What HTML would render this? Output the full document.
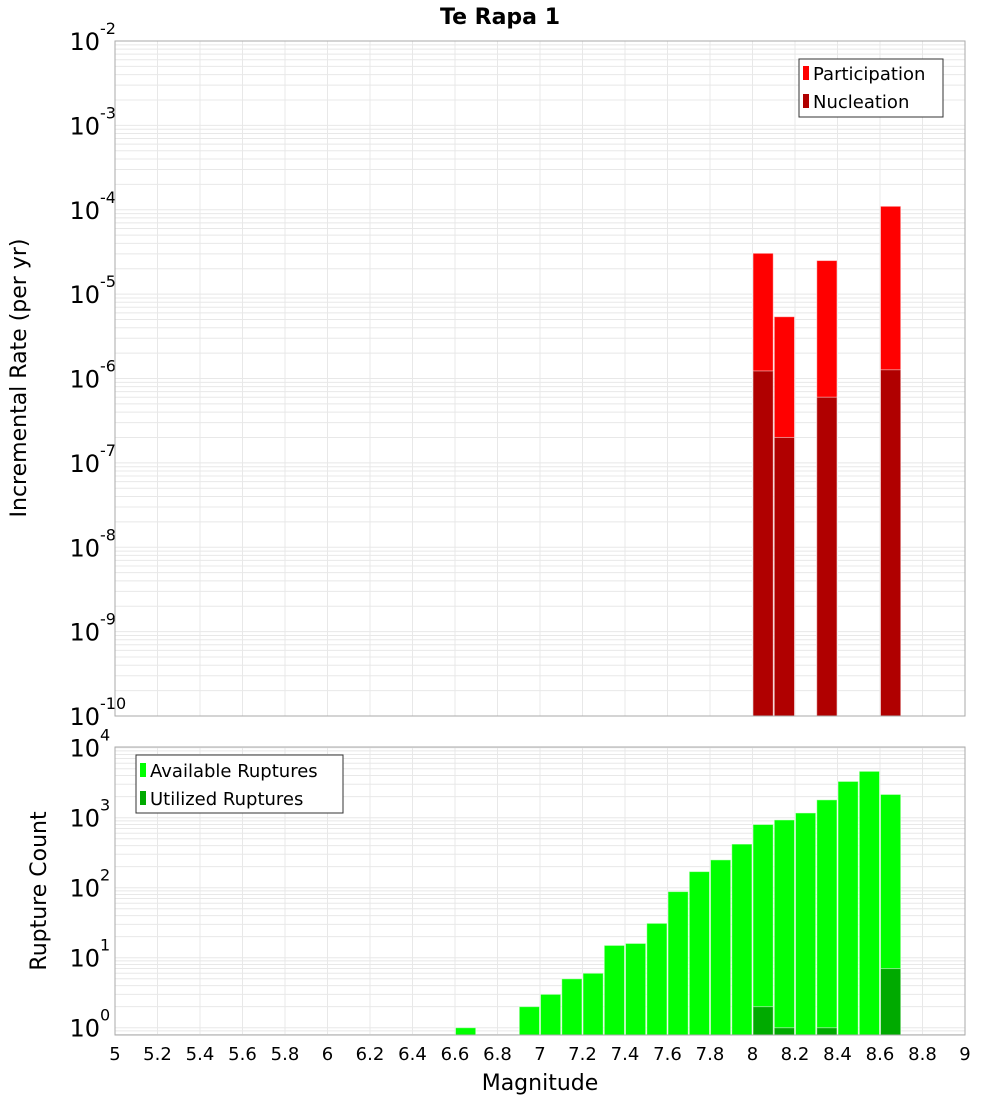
<!DOCTYPE html>
<html><head><meta charset="utf-8"><style>
body{margin:0;background:#fff}
svg{display:block;font-family:"DejaVu Sans","Liberation Sans",sans-serif}
</style></head><body>
<svg id="chart" width="1000" height="1100">
<text x="500" y="24" text-anchor="middle" font-weight="bold" font-size="22">Te Rapa 1</text>
<g id="top"></g>
<g id="bot"></g>
<text transform="translate(26,378) rotate(-90)" text-anchor="middle" font-size="22">Incremental Rate (per yr)</text>
<text transform="translate(46,891) rotate(-90)" text-anchor="middle" font-size="22">Rupture Count</text>
<text x="540" y="1090" text-anchor="middle" font-size="22">Magnitude</text>
<g>
<rect x="799" y="59" width="144" height="58" fill="#fff" stroke="#333"/>
<rect x="803" y="66" width="6" height="14" fill="#ff0000"/>
<text x="813" y="80" font-size="18">Participation</text>
<rect x="803" y="94" width="6" height="14" fill="#b00000"/>
<text x="813" y="108" font-size="18">Nucleation</text>
</g>
<g>
<rect x="136" y="755" width="207" height="58" fill="#fff" stroke="#333"/>
<rect x="140" y="763" width="6" height="14" fill="#00ff00"/>
<text x="150" y="777" font-size="18">Available Ruptures</text>
<rect x="140" y="791" width="6" height="14" fill="#00aa00"/>
<text x="150" y="805" font-size="18">Utilized Ruptures</text>
</g>
</svg>
<script>
const rateMags=[8.05,8.15,8.35,8.65];
const participation=[3.05e-5,5.4e-6,2.5e-5,1.1e-4];
const nucleation=[1.23e-6,2.0e-7,6.0e-7,1.27e-6];
const countMags=[6.65,6.95,7.05,7.15,7.25,7.35,7.45,7.55,7.65,7.75,7.85,7.95,8.05,8.15,8.25,8.35,8.45,8.55,8.65];
const available=[1,2,3,5,6,15,16,31,88,170,250,420,800,930,1170,1800,3300,4600,2150];
const utilizedMags=[8.05,8.15,8.35,8.65];
const utilized=[2,1,1,7];
const xTicks=[5,5.2,5.4,5.6,5.8,6,6.2,6.4,6.6,6.8,7,7.2,7.4,7.6,7.8,8,8.2,8.4,8.6,8.8,9];
const rateExps=[-2,-3,-4,-5,-6,-7,-8,-9,-10];
const countExps=[4,3,2,1,0];

const NS='http://www.w3.org/2000/svg';
const L=115,R=965;
const X=m=>L+(m-5)/4*(R-L);
function mk(p,t,a){const e=document.createElementNS(NS,t);for(const k in a)e.setAttribute(k,a[k]);p.appendChild(e);return e;}
function panel(g,top,bot,lmin,lmax,exps,name){
  const Y=v=>bot-(Math.log10(v)-lmin)/(lmax-lmin)*(bot-top);
  mk(g,'rect',{x:L,y:top,width:R-L,height:bot-top,fill:'#fff'});
  for(let d=Math.floor(lmin);d<lmax;d++)for(let k=1;k<10;k++){const v=k*Math.pow(10,d);const lv=Math.log10(v);if(lv<lmin||lv>lmax)continue;
    const l=mk(g,'line',{x1:L,x2:R,y1:Y(v),y2:Y(v),stroke:'#e8e8e8','stroke-width':1});
    
    }
  xTicks.forEach(t=>{const l=mk(g,'line',{x1:X(t),x2:X(t),y1:top,y2:bot,stroke:'#e8e8e8'});
    
    });
  exps.forEach(e=>{const y=Y(Math.pow(10,e));
    const t=mk(g,'text',{x:100,y:y+9,'text-anchor':'end','font-size':24});
    
    
    t.textContent='10';
    const s=mk(g,'text',{x:100,y:y-7,'font-size':16});
    
    
    s.textContent=String(e);});
  return Y;
}
function bars(g,Y,mags,vals,bot,color,name){
  mags.forEach((m,i)=>{const y=Y(vals[i]);
    const r=mk(g,'rect',{x:X(m-0.05)+0.5,y:y,width:X(m+0.05)-X(m-0.05)-1,height:bot-y,fill:color,stroke:'rgba(255,255,255,0.5)','stroke-width':1});
    
    });
}
const gt=document.getElementById('top'),gb=document.getElementById('bot');
const Yt=panel(gt,41,716,-10,-2,rateExps,'rate');
bars(gt,Yt,rateMags,participation,716,'#ff0000','participation');
bars(gt,Yt,rateMags,nucleation,716,'#b00000','nucleation');
mk(gt,'rect',{x:L,y:41,width:R-L,height:675,fill:'none',stroke:'#aaa'});
const Yb=panel(gb,747,1035,-0.104,4.01,countExps,'count');
bars(gb,Yb,countMags,available,1035,'#00ff00','available');
bars(gb,Yb,utilizedMags,utilized,1035,'#00aa00','utilized');
mk(gb,'rect',{x:L,y:747,width:R-L,height:288,fill:'none',stroke:'#aaa'});
xTicks.forEach(t=>{const e=mk(gb,'text',{x:X(t),y:1060,'text-anchor':'middle','font-size':18});
  
  
  e.textContent=String(t);});
</script>
</body></html>
